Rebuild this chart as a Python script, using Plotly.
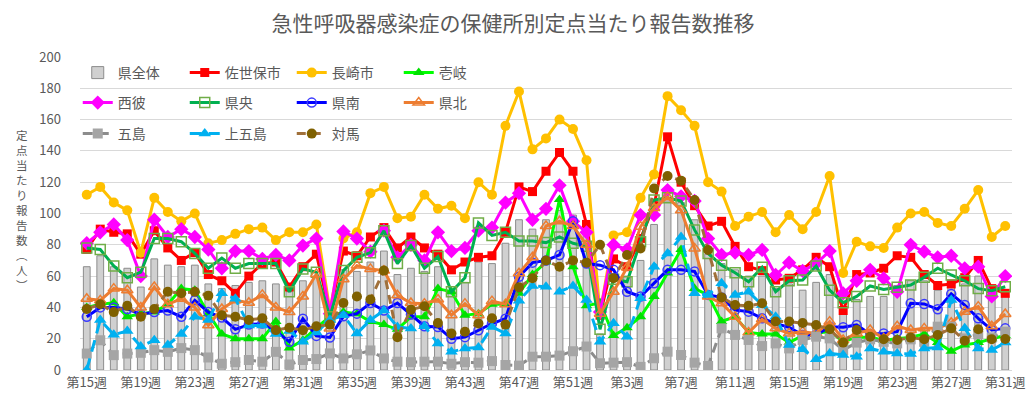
import plotly.graph_objects as go

# ---- data ----
weeks = list(range(15, 53)) + list(range(1, 32))
week_labels = [f"第{w}週" for w in weeks]

ken_zentai = [66, 73, 66, 65, 53, 71, 67, 66, 67, 55, 52, 54, 56, 57, 55, 50, 57, 60, 28, 64,
              63, 69, 76, 61, 65, 63, 66, 51, 56, 69, 68, 81, 96, 90, 96, 102, 99, 86, 23, 52,
              60, 70, 93, 108, 107, 96, 74, 68, 64, 60, 60, 52, 55, 51, 56, 61, 38, 45, 47, 47,
              54, 57, 57, 51, 55, 55, 60, 50, 48]
sasebo = [77, 90, 88, 87, 74, 89, 78, 70, 75, 61, 57, 49, 60, 68, 69, 53, 66, 74, 37, 76,
          73, 85, 91, 78, 85, 78, 74, 64, 69, 72, 73, 88, 117, 114, 127, 139, 127, 93, 35, 71,
          66, 84, 105, 149, 120, 105, 92, 95, 79, 66, 63.5, 57.5, 58.6, 64, 72, 66, 38, 61, 62, 65,
          73, 72, 61, 54, 55, 59, 70, 52, 49]
nagasaki = [112, 117, 107, 102, 75, 110, 101, 95, 100, 81, 83, 87, 90, 91, 83, 88, 88, 93, 38, 84,
            88, 113, 117, 97, 98, 112, 103, 105, 97, 120, 112, 156, 178, 141, 148, 160, 154, 134, 36, 86,
            88, 110, 125, 175, 166, 156, 120, 114, 92, 98, 101, 88, 99, 90, 101, 124, 62, 82, 79, 78,
            91, 100, 101, 94, 92, 103, 115, 85, 92]
iki = [40, 42, 43, 34, 36, 37, 42, 52, 51, 36, 23, 20, 20, 20, 31, 14, 19, 27, 34, 37,
       36, 31, 29, 26, 34, 34, 52, 50, 35, 36, 42, 42, 49, 61, 69, 109, 66, 41, 43, 22,
       27, 34, 47, 62, 77, 52, 48, 31, 34, 24, 23, 23, 17.5, 22, 23, 25, 18, 21, 21, 19,
       20, 21, 23, 17.5, 12, 16, 17.5, 20, 22]
seihi = [81, 88, 93, 83, 60, 96, 85, 90, 85, 77, 65, 76, 76, 71, 73.5, 70, 79.5, 84, 36, 88.5,
         84, 75.6, 89, 72, 80, 70, 88, 76, 78, 89, 91, 107, 113, 96, 103, 118, 95, 88, 37, 80,
         77, 99, 99, 115, 111, 108, 84, 73.5, 75, 73.5, 76.7, 60.7, 68.6, 63.3, 68, 76, 49, 57, 64, 58.6,
         50, 80, 75.6, 72, 73, 65, 66, 47, 60]
kenou = [78, 77, 66.5, 59, 62.5, 84, 84, 82, 74.5, 65, 71.5, 65, 68, 68, 68, 50, 64.6, 62.5, 34, 63.5,
         72, 75, 89, 68, 79.5, 65, 72.5, 50, 59, 94, 86, 88, 82.4, 82.4, 81.4, 85, 81, 79, 26, 58,
         56.4, 82, 108.6, 110, 108, 89.5, 74.5, 67, 62.2, 56.4, 65.6, 50, 57, 57.5, 66.5, 51, 43, 47, 53.7, 51.5,
         52.8, 54.3, 59.2, 65, 60.7, 57, 52, 50.7, 53.2]
kennan = [34, 40, 40, 39, 35.5, 37, 38, 34, 44.5, 37, 33.5, 26, 29, 29.7, 25, 18, 32.8, 21.8, 20.8, 34.3,
          36, 42.8, 38, 42.8, 35.4, 28, 27.5, 20, 21, 25.4, 29.7, 32.8, 59.6, 68.6, 70, 73.5, 95, 68, 67, 64,
          50, 47, 55.4, 64, 64, 63, 48, 46.4, 38.3, 37.3, 33, 29.8, 27.3, 22.4, 22.4, 27.7, 27.3, 28.8, 22.8, 23.4,
          24.5, 42.6, 42.2, 38.8, 48.6, 41.5, 33, 25.6, 26.6]
kenhoku = [45.5, 44.5, 52, 51, 40, 53, 42, 45.5, 40, 28.6, 39, 44.5, 43, 48, 40, 37, 47, 61.4, 26.5, 58,
           66.7, 64.6, 63.5, 47.7, 42.8, 42.4, 45, 35, 42.4, 35, 44, 42, 61.8, 72, 92, 95, 92, 80, 36, 50,
           65.5, 91.6, 103.5, 110.5, 102, 77.7, 46.9, 42.6, 34, 23.9, 32.4, 26.6, 23.4, 24.5, 23.4, 30.9, 19.2, 23.4, 25.6, 20.2,
           28, 25.6, 26.6, 26.6, 30.2, 37.3, 40.5, 28, 35.8]
goto = [10.5, 19, 9.5, 10.5, 11, 12.7, 11.6, 14, 12.7, 8, 4, 5, 6.4, 5.3, 11.6, 3.5, 6.4, 7, 10.6, 7.4,
        10, 12.5, 7.4, 5.3, 5, 5.3, 5.3, 4, 5, 4.7, 5.7, 3.2, 2.8, 8.5, 8.5, 9.2, 12, 15, 4.3, 4.7,
        5, 2, 7.5, 11.7, 9.6, 4.7, 2.6, 26.6, 22.4, 19.2, 15.3, 17, 13.8, 19.2, 21.3, 20.2, 12.8, 17.5, 19.6, 18,
        17, 19.6, 18, 27.7, 27.7, 20.2, 22.8, 20.7, 24.5]
kamigoto = [0, 32, 22.5, 25, 15, 19, 16, 23, 34, 32, 49, 45.5, 28.5, 28.5, 23, 25, 18, 24, 32, 35,
            23.3, 32, 38, 27.5, 26.5, 28, 17, 11.6, 13.8, 14.4, 27.5, 23.4, 44.3, 53.7, 53.2, 50, 53.7, 44.7, 18, 29.8,
            21.3, 45.8, 66, 74.5, 85, 49, 48, 55.4, 48, 50, 41.5, 34, 16, 13.2, 6.8, 10.6, 9.6, 8.5, 13.8, 11.7,
            10.6, 10.2, 13.8, 14.3, 44.7, 26.6, 13.8, 12.8, 17.5]
tsushima = [39, 42, 37, 41, 34, 39, 50, 49, 50, 47.5, 35, 34, 32, 33, 25.5, 27, 25.4, 28, 29, 42.8,
            47, 45, 63.5, 21, 38.5, 40.7, 30, 23.3, 24.4, 29.7, 33, 29, 52.8, 58.6, 70, 66, 70, 68.6, 80, 58.6,
            73.5, 77.7, 116, 124, 121, 108.6, 76.7, 46.4, 41.5, 41, 42.6, 31, 31, 30, 28.8, 26, 17.5, 25.6, 21.3, 19.6,
            19.2, 20.7, 19.6, 22.4, 26.6, 18.7, 26, 19.6, 19.8]

title_text = "急性呼吸器感染症の保健所別定点当たり報告数推移"
ytitle_chars = ["定", "点", "当", "た", "り", "報", "告", "数", "︵", "人", "︶"]

# ---- figure ----
FONT = "Noto Sans CJK JP"
GRAY = "#595959"
x = list(range(len(weeks)))

W, H = 1035, 412
ML, MR, MT, MB = 80.25, 23.25, 57, 42
PW = W - ML - MR
PH = H - MT - MB

fig = go.Figure()

fig.add_trace(go.Bar(
    x=x, y=ken_zentai, name="県全体", legend="legend",
    marker=dict(color="#D0D0D0", line=dict(color="#8C8C8C", width=1)),
    width=0.5,
))

def line_trace(y, name, lcolor, symbol, mcolor, legend, dash="solid", msize=9, mline=None):
    marker = dict(symbol=symbol, size=msize, color=mcolor)
    if mline:
        marker["line"] = dict(color=mline, width=1.5)
    return go.Scatter(
        x=x, y=y, name=name, legend=legend, mode="lines+markers",
        line=dict(color=lcolor, width=3, dash=dash), marker=marker,
    )

fig.add_trace(line_trace(sasebo, "佐世保市", "#FF0000", "square", "#FF0000", "legend", msize=9))
fig.add_trace(line_trace(nagasaki, "長崎市", "#FFC000", "circle", "#FFC000", "legend", msize=10))
fig.add_trace(line_trace(iki, "壱岐", "#00FF00", "triangle-up", "#00E000", "legend", msize=10))
fig.add_trace(line_trace(seihi, "西彼", "#FF00FF", "diamond", "#FF00FF", "legend2", msize=11))
fig.add_trace(line_trace(kenou, "県央", "#00B050", "square-open", "#70AD47", "legend2", msize=10, mline="#70AD47"))
fig.add_trace(line_trace(kennan, "県南", "#0000FF", "circle-open", "#3A3AFF", "legend2", msize=9, mline="#3A3AFF"))
fig.add_trace(line_trace(kenhoku, "県北", "#ED7D31", "triangle-up-open", "#ED7D31", "legend2", msize=10, mline="#ED7D31"))
fig.add_trace(line_trace(goto, "五島", "#8C8C8C", "square", "#A5A5A5", "legend3", dash="10px,6px", msize=10))
fig.add_trace(line_trace(kamigoto, "上五島", "#00B0F0", "triangle-up", "#00B0F0", "legend3", dash="12px,7px", msize=11))
fig.add_trace(line_trace(tsushima, "対馬", "#A0703A", "circle", "#7F6000", "legend3", dash="9px,6px", msize=10))

def legend_cfg(ypx):
    return dict(
        orientation="h", x=(78 - ML) / PW, xanchor="left",
        y=(H - MB - ypx) / PH, yanchor="middle",
        entrywidth=62, entrywidthmode="pixels",
        bgcolor="rgba(0,0,0,0)", borderwidth=0,
        font=dict(family=FONT, size=14, color=GRAY),
        traceorder="normal", itemclick=False, itemdoubleclick=False,
    )

ytitle = dict(
    text="<br>".join(ytitle_chars), xref="paper", yref="paper",
    x=(22 - ML) / PW, y=(H - MB - 210) / PH,
    xanchor="center", yanchor="middle", showarrow=False, align="center",
    font=dict(family=FONT, size=11.5, color=GRAY),
)

fig.update_layout(
    width=W, height=H,
    margin=dict(l=ML, r=MR, t=MT, b=MB, autoexpand=False),
    paper_bgcolor="white", plot_bgcolor="white",
    title=dict(text=title_text, x=513 / W, xanchor="center", xref="container",
               y=1 - 24 / H, yanchor="middle", yref="container",
               font=dict(family=FONT, size=21, color=GRAY)),
    font=dict(family=FONT, color=GRAY),
    bargap=0.5,
    showlegend=True,
    legend=legend_cfg(73),
    legend2=legend_cfg(103),
    legend3=legend_cfg(134),
    annotations=[ytitle],
    xaxis=dict(
        range=[-0.5, len(weeks) - 0.5],
        tickmode="array", tickvals=x[::4], ticktext=week_labels[::4],
        showgrid=False, showline=True, linecolor="#D9D9D9", linewidth=1,
        ticks="", tickfont=dict(family=FONT, size=13, color=GRAY),
        zeroline=False,
    ),
    yaxis=dict(
        range=[0, 200], dtick=20, tick0=0,
        showgrid=True, gridcolor="#D9D9D9", gridwidth=1,
        zeroline=False, showline=False, ticks="",
        tickfont=dict(family=FONT, size=13, color=GRAY),
        ticklabelstandoff=18,
    ),
)

fig.write_html("out.html", config={"displayModeBar": False},
               post_script="document.body.style.margin='0';")
